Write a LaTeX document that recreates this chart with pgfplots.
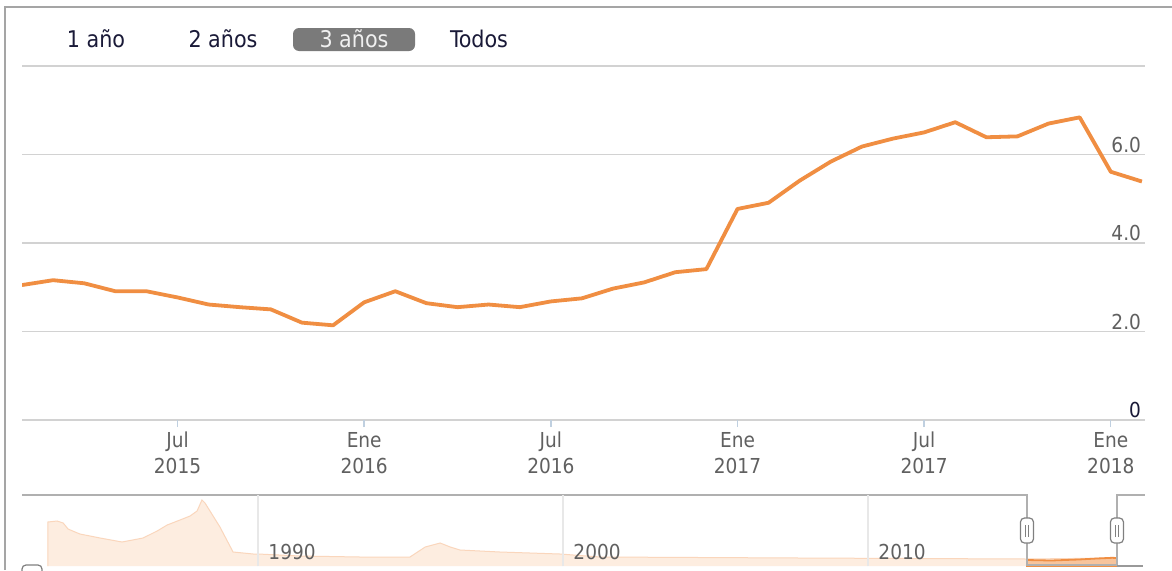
\documentclass[border=0pt]{standalone}
\usepackage{fontspec}
\setmainfont{DejaVu Sans Condensed}
\usepackage{pgfplots}
\pgfplotsset{compat=1.18}
\definecolor{lineor}{RGB}{240,142,66}
\definecolor{navfill}{RGB}{253,237,224}
\definecolor{navline}{RGB}{250,214,188}
\definecolor{selfill}{RGB}{247,196,156}
\definecolor{gridc}{RGB}{210,210,210}
\definecolor{navgrid}{RGB}{232,232,232}
\definecolor{tickc}{RGB}{192,208,224}
\definecolor{labc}{RGB}{96,96,96}
\definecolor{btntext}{RGB}{26,26,56}
\definecolor{btnfill}{RGB}{122,122,122}
\definecolor{framec}{RGB}{165,165,165}
\definecolor{outc}{RGB}{176,176,176}
\tikzset{handle/.style={draw=gray, fill=white, rounded corners=2pt, line width=0.6pt, minimum width=6.5pt, minimum height=12.5pt, inner sep=0pt}}
\newcommand{\handlebars}{\textcolor{gray}{\rule{0.5pt}{6pt}\hspace{1.2pt}\rule{0.5pt}{6pt}}}
\begin{document}
\begin{tikzpicture}
\path[use as bounding box, fill=white] (0,0) rectangle (586pt,285pt);
\draw[framec, line width=0.8pt] (2.5pt,0) -- (2.5pt,281.5pt) -- (586pt,281.5pt);
% range selector buttons
\fill[btnfill, rounded corners=3pt] (146.5pt,259.5pt) rectangle (207.5pt,271pt);
\node[font=\fontsize{11.5}{13}\selectfont, text=btntext] at (48pt,265.5pt) {1 año};
\node[font=\fontsize{11.5}{13}\selectfont, text=btntext] at (111.5pt,265.5pt) {2 años};
\node[font=\fontsize{11.5}{13}\selectfont, text=white!88!gray] at (177pt,265.5pt) {3 años};
\node[font=\fontsize{11.5}{13}\selectfont, text=btntext] at (239.5pt,265.5pt) {Todos};
% main chart
\begin{axis}[
  at={(11pt,75pt)}, anchor=south west, scale only axis,
  width=561.5pt, height=177pt,
  xmin=1, xmax=37.1, ymin=0, ymax=8,
  axis line style={draw=none},
  ymajorgrids, grid style={gridc, line width=0.7pt},
  ytick={0,2,4,6,8}, yticklabels={\textcolor{btntext}{0},2.0,4.0,6.0,},
  yticklabel pos=right, ytick style={draw=none},
  yticklabel style={anchor=base east, font=\fontsize{10.3}{12}\selectfont, text=labc, xshift=-2pt, yshift=1.2pt},
  xtick={6,12,18,24,30,36},
  xticklabels={{Jul\\2015},{Ene\\2016},{Jul\\2016},{Ene\\2017},{Jul\\2017},{Ene\\2018}},
  xticklabel style={align=center, font=\fontsize{10.3}{13}\selectfont, text=labc, yshift=1pt},
  tick align=outside, tick pos=left,
  xtick style={draw=tickc, line width=0.7pt}, major tick length=3.5pt,
]
\addplot[lineor, line width=1.9pt, line join=round] coordinates {
(1,3.05) (2,3.16) (3,3.09) (4,2.91) (5,2.91) (6,2.77) (7,2.61) (8,2.55) (9,2.50)
(10,2.20) (11,2.14) (12,2.66) (13,2.91) (14,2.64) (15,2.55) (16,2.61) (17,2.55)
(18,2.68) (19,2.75) (20,2.97) (21,3.11) (22,3.34) (23,3.41) (24,4.77) (25,4.91)
(26,5.41) (27,5.84) (28,6.18) (29,6.36) (30,6.50) (31,6.73) (32,6.39) (33,6.41)
(34,6.70) (35,6.84) (36,5.61) (37,5.39)};
\end{axis}
% navigator
\begin{axis}[
  at={(11pt,2pt)}, anchor=south west, scale only axis,
  width=561.5pt, height=35.5pt,
  xmin=1982.26, xmax=2019.08, ymin=0, ymax=71,
  axis line style={draw=none}, clip=false, axis on top,
  xmajorgrids, grid style={navgrid, line width=0.6pt},
  xtick={1990,2000,2010}, xticklabels={1990,2000,2010},
  xtick style={draw=none}, ytick=\empty,
  xticklabel style={anchor=base west, inner sep=0pt, xshift=5pt, yshift=3.5pt, font=\fontsize{10.3}{12}\selectfont, text=labc},
]
\addplot[fill=navfill, draw=navline, line width=0.5pt] coordinates {
(1983.11,0) (1983.11,44) (1983.41,45) (1983.61,43) (1983.77,37) (1984.0,34) (1984.16,32)
(1984.82,28) (1985.54,24) (1986.23,28) (1986.69,35) (1987.02,41) (1987.44,46)
(1987.77,50) (1988.0,55) (1988.16,66) (1988.26,63) (1988.75,39) (1989.18,14)
(1989.84,12) (1990.0,12) (1991.38,10) (1993.34,9) (1994.98,9) (1995.48,19)
(1995.97,23) (1996.30,19) (1996.62,16) (1997.93,14) (1999.90,12) (2001.21,9)
(2007.77,8) (2015.21,7) (2018.16,8) (2018.16,0)};
\addplot[fill=selfill, draw=lineor, line width=0.9pt] coordinates {
(2015.21,6) (2016.0,5.5) (2016.9,6.5) (2017.5,7.5) (2018.0,8.2) (2018.16,8)} \closedcycle;
\draw[outc, line width=0.7pt] (axis cs:1982.26,71) -- (axis cs:2015.21,71) -- (axis cs:2015.21,0)
  (axis cs:2015.21,1) -- (axis cs:2018.16,1)
  (axis cs:2018.16,0) -- (axis cs:2018.16,71) -- (axis cs:2019.08,71);
\node[handle] at (axis cs:2015.21,35.5) {\handlebars};
\node[handle] at (axis cs:2018.16,35.5) {\handlebars};
\end{axis}
\draw[gray, rounded corners=2pt, line width=0.6pt] (11pt,-4pt) rectangle (21pt,2.5pt);
\draw[gray!80, line width=0.8pt] (558.5pt,2pt) -- (571.5pt,2pt);
\end{tikzpicture}
\end{document}
